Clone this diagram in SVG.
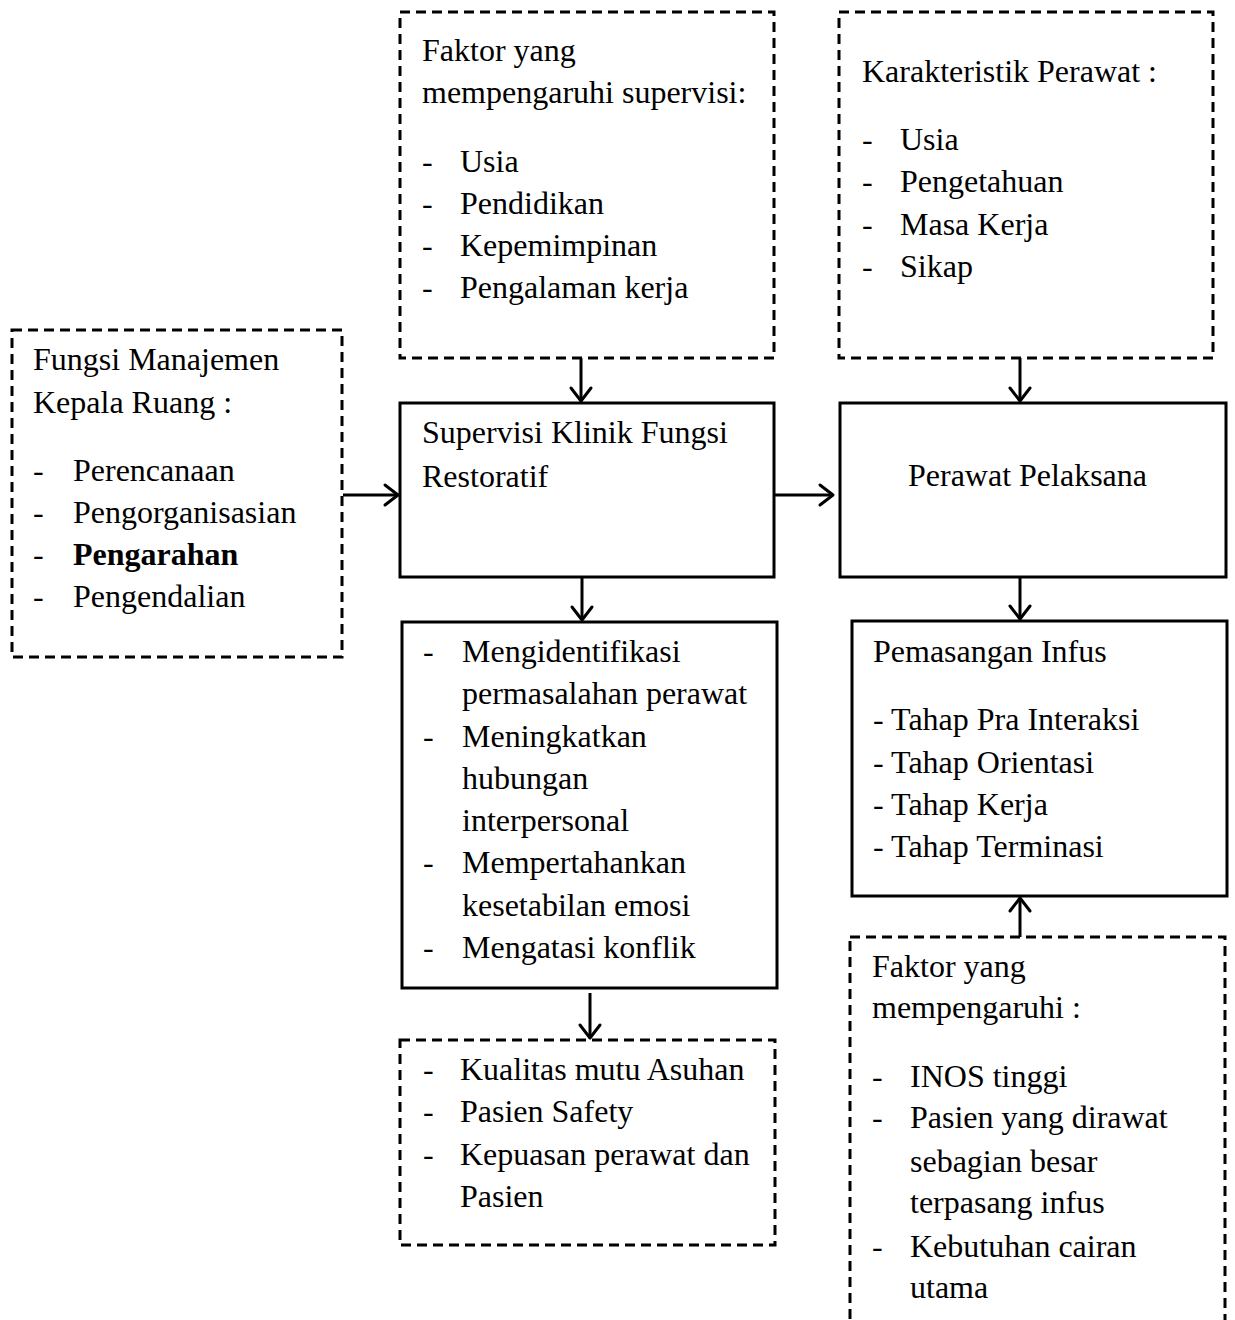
<svg xmlns="http://www.w3.org/2000/svg" width="1235" height="1320" viewBox="0 0 1235 1320">
  <style>
    text { font-family: "Liberation Serif", "Times New Roman", serif; font-size: 32px; fill: #000; }
    .b { font-weight: bold; }
    .solid { fill: #fff; stroke: #000; stroke-width: 3; }
    .dash { fill: #fff; stroke: #000; stroke-width: 3; stroke-dasharray: 10 6; }
    .conn { stroke: #000; stroke-width: 3; fill: none; marker-end: url(#arr); }
  </style>
  <defs>
    <marker id="arr" markerUnits="userSpaceOnUse" markerWidth="20" markerHeight="26" refX="16" refY="13" orient="auto">
      <path d="M3,3 L16,13 L3,23" fill="none" stroke="#000" stroke-width="3" stroke-linecap="round" stroke-linejoin="round"/>
    </marker>
  </defs>
  <rect width="1235" height="1320" fill="#fff"/>

  <!-- connectors -->
  <g id="connectors">
    <line class="conn" x1="581" y1="358" x2="581" y2="401"/>
    <line class="conn" x1="1020" y1="358" x2="1020" y2="401"/>
    <line class="conn" x1="343" y1="495" x2="398" y2="495"/>
    <line class="conn" x1="774" y1="495" x2="833" y2="495"/>
    <line class="conn" x1="582" y1="577" x2="582" y2="620"/>
    <line class="conn" x1="590" y1="993" x2="590" y2="1038"/>
    <line class="conn" x1="1020" y1="577" x2="1020" y2="619"/>
    <line class="conn" x1="1020" y1="937" x2="1020" y2="898"/>
  </g>

  <!-- factors affecting supervision -->
  <g id="faktor-supervisi">
    <rect class="dash" x="400" y="12" width="374" height="346"/>
    <text x="422" y="61">Faktor yang</text>
    <text x="422" y="103">mempengaruhi supervisi:</text>
    <text x="422" y="172">-</text><text x="460" y="172">Usia</text>
    <text x="422" y="214">-</text><text x="460" y="214">Pendidikan</text>
    <text x="422" y="256">-</text><text x="460" y="256">Kepemimpinan</text>
    <text x="422" y="298">-</text><text x="460" y="298">Pengalaman kerja</text>
  </g>

  <!-- nurse characteristics -->
  <g id="karakteristik-perawat">
    <rect class="dash" x="839" y="12" width="374" height="346"/>
    <text x="862" y="82">Karakteristik Perawat :</text>
    <text x="862" y="150">-</text><text x="900" y="150">Usia</text>
    <text x="862" y="192">-</text><text x="900" y="192">Pengetahuan</text>
    <text x="862" y="235">-</text><text x="900" y="235">Masa Kerja</text>
    <text x="862" y="277">-</text><text x="900" y="277">Sikap</text>
  </g>

  <!-- head nurse management functions -->
  <g id="fungsi-manajemen">
    <rect class="dash" x="12" y="330" width="330" height="327"/>
    <text x="33" y="370">Fungsi Manajemen</text>
    <text x="33" y="413">Kepala Ruang :</text>
    <text x="33" y="481">-</text><text x="73" y="481">Perencanaan</text>
    <text x="33" y="523">-</text><text x="73" y="523">Pengorganisasian</text>
    <text x="33" y="565">-</text><text class="b" x="73" y="565">Pengarahan</text>
    <text x="33" y="607">-</text><text x="73" y="607">Pengendalian</text>
  </g>

  <!-- clinical supervision -->
  <g id="supervisi-klinik">
    <rect class="solid" x="400" y="403" width="374" height="174"/>
    <text x="422" y="443">Supervisi Klinik Fungsi</text>
    <text x="422" y="487">Restoratif</text>
  </g>

  <!-- staff nurse -->
  <g id="perawat-pelaksana">
    <rect class="solid" x="840" y="403" width="386" height="174"/>
    <text x="908" y="486">Perawat Pelaksana</text>
  </g>

  <!-- restorative activities -->
  <g id="kegiatan-restoratif">
    <rect class="solid" x="402" y="622" width="375" height="366"/>
    <text x="423" y="662">-</text><text x="462" y="662">Mengidentifikasi</text>
    <text x="462" y="704">permasalahan perawat</text>
    <text x="423" y="747">-</text><text x="462" y="747">Meningkatkan</text>
    <text x="462" y="789">hubungan</text>
    <text x="462" y="831">interpersonal</text>
    <text x="423" y="873">-</text><text x="462" y="873">Mempertahankan</text>
    <text x="462" y="916">kesetabilan emosi</text>
    <text x="423" y="958">-</text><text x="462" y="958">Mengatasi konflik</text>
  </g>

  <!-- infusion procedure -->
  <g id="pemasangan-infus">
    <rect class="solid" x="852" y="621" width="375" height="275"/>
    <text x="873" y="662">Pemasangan Infus</text>
    <text x="873" y="730">- Tahap Pra Interaksi</text>
    <text x="873" y="773">- Tahap Orientasi</text>
    <text x="873" y="815">- Tahap Kerja</text>
    <text x="873" y="857">- Tahap Terminasi</text>
  </g>

  <!-- outcomes -->
  <g id="hasil">
    <rect class="dash" x="400" y="1040" width="375" height="205"/>
    <text x="423" y="1080">-</text><text x="460" y="1080">Kualitas mutu Asuhan</text>
    <text x="423" y="1122">-</text><text x="460" y="1122">Pasien Safety</text>
    <text x="423" y="1165">-</text><text x="460" y="1165">Kepuasan perawat dan</text>
    <text x="460" y="1207">Pasien</text>
  </g>

  <!-- influencing factors -->
  <g id="faktor-infus">
    <rect class="dash" x="850" y="937" width="375" height="400"/>
    <text x="872" y="977">Faktor yang</text>
    <text x="872" y="1018">mempengaruhi :</text>
    <text x="872" y="1087">-</text><text x="910" y="1087">INOS tinggi</text>
    <text x="872" y="1128">-</text><text x="910" y="1128">Pasien yang dirawat</text>
    <text x="910" y="1172">sebagian besar</text>
    <text x="910" y="1213">terpasang infus</text>
    <text x="872" y="1257">-</text><text x="910" y="1257">Kebutuhan cairan</text>
    <text x="910" y="1298">utama</text>
  </g>
</svg>
